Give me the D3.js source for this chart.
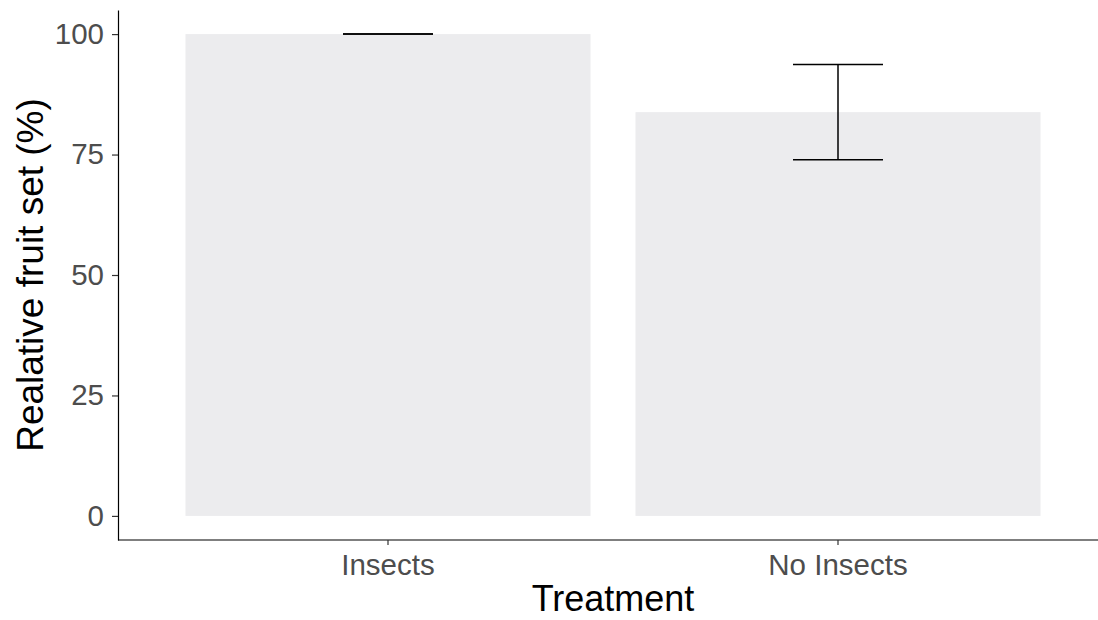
<!DOCTYPE html>
<html>
<head>
<meta charset="utf-8">
<script src="https://cdn.jsdelivr.net/npm/d3@7"></script>
<style>
  body { margin: 0; background: #fff; }
  svg { display: block; font-family: "Liberation Sans", Arial, sans-serif; }
</style>
</head>
<body>
<div id="chart"></div>
<script>
var svgWidth = 1098;
var svgHeight = 620;

// chart values
var treatments = ["Insects", "No Insects"];
var fruitSet = [100, 83.8];
var fruitSetErr = [0, 9.9];
var yTicks = [0, 25, 50, 75, 100];

var margin = { top: 10, right: -10, bottom: 80, left: 118 };
var width = svgWidth - margin.left - margin.right;
var height = svgHeight - margin.top - margin.bottom;

var svg = d3.select("#chart")
  .append("svg")
  .attr("width", svgWidth)
  .attr("height", svgHeight);

var chartGroup = svg.append("g")
  .attr("transform", `translate(${margin.left}, ${margin.top})`);

// discrete axis expanded by 0.6 of a step on each side, like ggplot
var step = width / (treatments.length + 0.2);
var xScale = d3.scaleBand()
  .domain(treatments)
  .range([0.1 * step, width - 0.1 * step])
  .paddingInner(0.1)
  .paddingOuter(0.05);

var yScale = d3.scaleLinear()
  .domain([-5, 105])
  .range([height, 0]);

var data = treatments.map((t, i) => ({ name: t, value: fruitSet[i], err: fruitSetErr[i] }));

// bars
chartGroup.selectAll("rect.bar")
  .data(data)
  .enter()
  .append("rect")
  .attr("class", "bar")
  .attr("x", d => xScale(d.name))
  .attr("width", xScale.bandwidth())
  .attr("y", d => yScale(d.value))
  .attr("height", d => yScale(0) - yScale(d.value))
  .attr("fill", "#ececee");

// error bars
var capHalf = 0.1 * xScale.step();
var errGroup = chartGroup.selectAll("g.err")
  .data(data)
  .enter()
  .append("g")
  .attr("class", "err")
  .attr("stroke", "#000")
  .attr("stroke-width", 1.5);

errGroup.append("line")
  .attr("x1", d => xScale(d.name) + xScale.bandwidth() / 2)
  .attr("x2", d => xScale(d.name) + xScale.bandwidth() / 2)
  .attr("y1", d => yScale(d.value + d.err))
  .attr("y2", d => yScale(d.value - d.err));

errGroup.append("line")
  .attr("x1", d => xScale(d.name) + xScale.bandwidth() / 2 - capHalf)
  .attr("x2", d => xScale(d.name) + xScale.bandwidth() / 2 + capHalf)
  .attr("y1", d => yScale(d.value + d.err))
  .attr("y2", d => yScale(d.value + d.err));

errGroup.append("line")
  .attr("x1", d => xScale(d.name) + xScale.bandwidth() / 2 - capHalf)
  .attr("x2", d => xScale(d.name) + xScale.bandwidth() / 2 + capHalf)
  .attr("y1", d => yScale(d.value - d.err))
  .attr("y2", d => yScale(d.value - d.err));

// axes
var bottomAxis = d3.axisBottom(xScale).tickSize(5).tickPadding(8).tickSizeOuter(0);
var leftAxis = d3.axisLeft(yScale).tickValues(yTicks).tickSize(6).tickPadding(8).tickSizeOuter(0);

var xAxis = chartGroup.append("g")
  .attr("transform", `translate(0, ${height})`)
  .call(bottomAxis);

// x axis line runs the whole panel width, not just the band range
xAxis.select(".domain").attr("d", `M0,0H${width}`);

var yAxis = chartGroup.append("g")
  .call(leftAxis);

[xAxis, yAxis].forEach(function(ax) {
  ax.select(".domain").attr("stroke", "#000").attr("stroke-width", 1.2);
  ax.selectAll(".tick line").attr("stroke", "#333").attr("stroke-width", 1.2);
  ax.selectAll(".tick text")
    .attr("fill", "#4d4d4d")
    .style("font-size", "29.5px")
    .style("font-family", "'Liberation Sans', Arial, sans-serif");
});
xAxis.selectAll(".tick text").attr("dy", "0.75em");

// axis titles
svg.append("text")
  .attr("x", margin.left + width / 2)
  .attr("y", 611)
  .attr("text-anchor", "middle")
  .style("font-size", "36px")
  .attr("fill", "#000")
  .text("Treatment");

svg.append("text")
  .attr("transform", `translate(43, ${margin.top + height / 2}) rotate(-90)`)
  .attr("text-anchor", "middle")
  .style("font-size", "37px")
  .attr("fill", "#000")
  .text("Realative fruit set (%)");
</script>
</body>
</html>
